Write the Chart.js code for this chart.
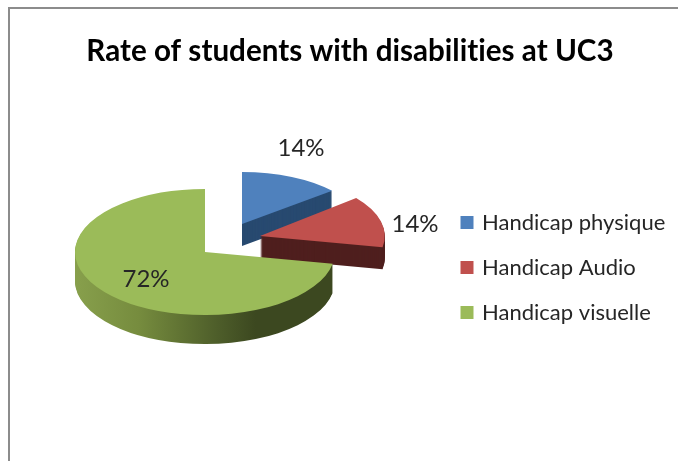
<!DOCTYPE html>
<html>
<head>
<meta charset="utf-8">
<title>Rate of students with disabilities at UC3</title>
<script src="https://cdn.jsdelivr.net/npm/chart.js@4"></script>
<style>
  html, body { margin: 0; padding: 0; background: #fff; overflow: hidden; }
  #wrap { position: relative; width: 678px; height: 461px; }
  #frame { position: absolute; left: 8px; top: 7px; right: 0; bottom: 0;
           border-left: 2px solid #8c8c8c; border-top: 2px solid #8c8c8c; }
  canvas { position: absolute; left: 0; top: 0; }
</style>
</head>
<body>
<div id="wrap">
  <div id="frame"></div>
  <canvas id="chart_handicap" width="678" height="461"></canvas>
</div>
<script>
var categories = ["Handicap physique", "Handicap Audio", "Handicap visuelle"];
var percentages = [14, 14, 72];

var topColors = ["#4f81bd", "#c0504d", "#9bbb59"];

// how each slice sits in the fake 3D view: pulled out from the centre, flattened, extruded
var pieCenter = { x: 205, y: 252 };
var sliceViews = [
    { dx: 37, dy: -28, sx: 0.90, tilt: 0.40, depth: 22 },
    { dx: 55, dy: -16, sx: 0.96, tilt: 0.46, depth: 22 },
    { dx: 0, dy: 0, sx: 1, tilt: 0.485, depth: 29 }
];
var labelOffsets = [[59, -76], [155, -12], [-59, 27]];

function sideColor(ctx, i) {
    if (i === 0) return "#284a70";
    if (i === 1) return "#4f1f1e";
    var g = ctx.createLinearGradient(75, 0, 335, 0);
    g.addColorStop(0, "#8fa852");
    g.addColorStop(0.35, "#768c3e");
    g.addColorStop(0.65, "#4e5e2a");
    g.addColorStop(0.8, "#3c4820");
    g.addColorStop(1, "#3c4820");
    return g;
}

var pie3d = {
    id: "pie3d",
    beforeDraw: function (chart) {
        // a tiny spacing keeps the canvas from joining "ti" into a ligature
        chart.ctx.letterSpacing = "0.01px";
    },
    afterLayout: function (chart) {
        // the legend is wider than the space on its right because of the label padding
        var legend = chart.legend;
        var shiftX = 440 - legend.left;
        legend.left += shiftX;
        legend.right += shiftX;
        legend.top += 20;
        legend.bottom += 20;
    },
    beforeDatasetDraw: function (chart) {
        var ctx = chart.ctx;
        var arcs = chart.getDatasetMeta(0).data;

        arcs.forEach(function (arc, i) {
            var view = sliceViews[i];
            var topOptions = arc.options;

            function place(down) {
                ctx.save();
                ctx.translate(pieCenter.x + view.dx, pieCenter.y + view.dy + down);
                ctx.scale(view.sx, view.tilt);
                ctx.translate(-arc.x, -arc.y);
                arc.draw(ctx);
                ctx.restore();
            }

            // side walls: same slice repeated downwards in the dark colour
            arc.options = Object.assign({}, topOptions, { backgroundColor: sideColor(ctx, i) });
            for (var d = view.depth; d > 0; d--) place(d);

            arc.options = topOptions;
            place(0);
        });

        ctx.save();
        ctx.font = "24px Lato";
        ctx.fillStyle = "#262626";
        ctx.textAlign = "center";
        ctx.textBaseline = "middle";
        arcs.forEach(function (arc, i) {
            var view = sliceViews[i];
            ctx.fillText(percentages[i] + "%",
                pieCenter.x + view.dx + labelOffsets[i][0],
                pieCenter.y + view.dy + labelOffsets[i][1]);
        });
        ctx.restore();
        return false;
    }
};

var ctx = document.getElementById("chart_handicap").getContext("2d");

var myPieChart = new Chart(ctx, {
    type: "pie",
    plugins: [pie3d],
    data: {
        labels: categories,
        datasets: [{
            data: percentages,
            backgroundColor: topColors,
            borderWidth: 0
        }]
    },
    options: {
        responsive: false,
        animation: false,
        rotation: 0,
        radius: 130,
        layout: { padding: { left: 22, top: 34 } },
        plugins: {
            title: {
                display: true,
                text: "Rate of students with disabilities at UC3",
                color: "#000",
                font: { family: "Lato", size: 29.6, weight: "bold" },
                padding: { top: 0, bottom: 0 }
            },
            legend: {
                display: true,
                position: "right",
                align: "center",
                labels: {
                    color: "#262626",
                    font: { family: "Lato", size: 22 },
                    boxWidth: 8,
                    boxHeight: 8,
                    padding: 23,
                    generateLabels: function (chart) {
                        // stroke the swatch so it stays 13px but sits closer to the text
                        return Chart.overrides.pie.plugins.legend.labels.generateLabels(chart).map(function (item) {
                            item.strokeStyle = item.fillStyle;
                            item.lineWidth = 5;
                            return item;
                        });
                    }
                }
            },
            tooltip: { enabled: false }
        }
    }
});
</script>
</body>
</html>
